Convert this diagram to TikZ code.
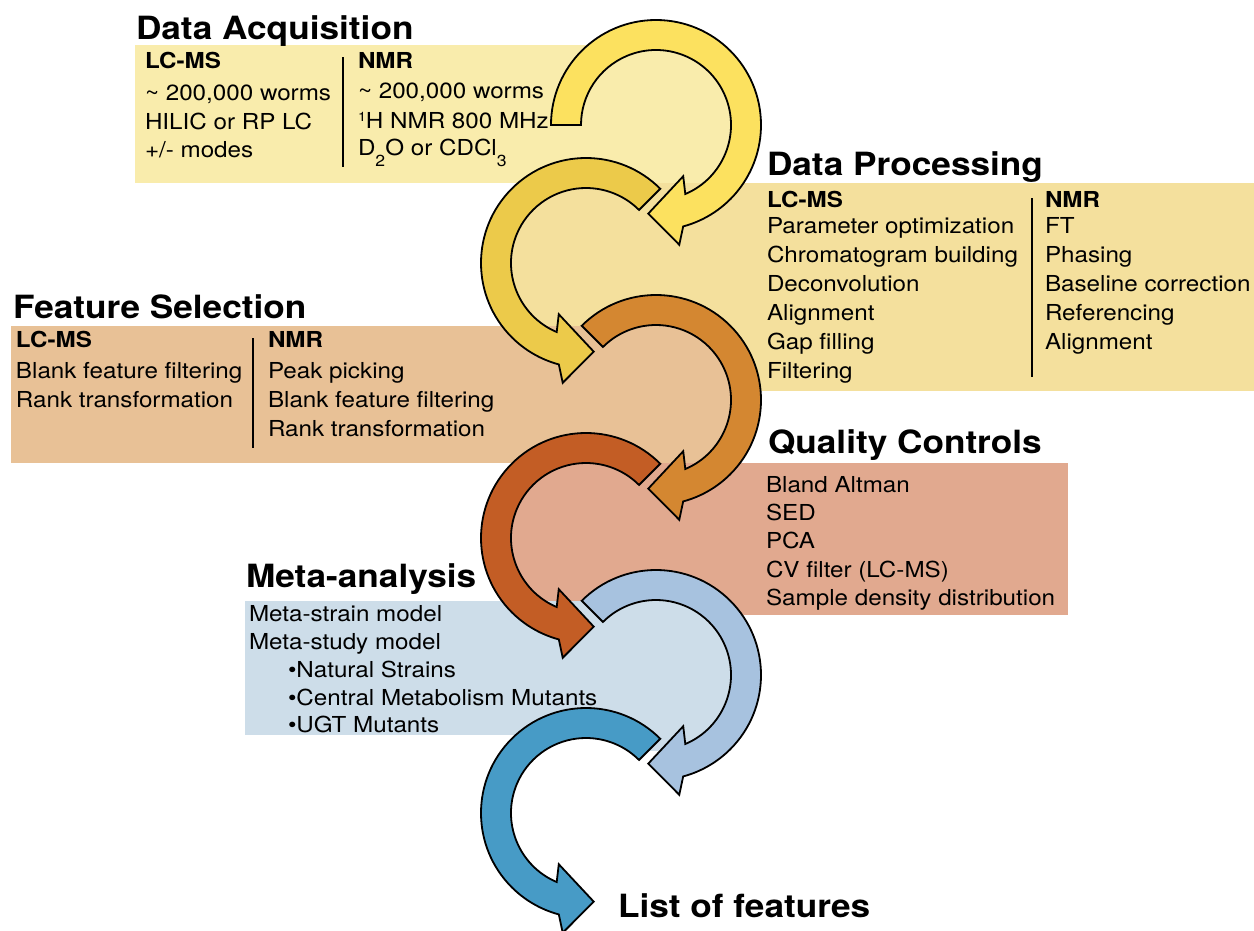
\documentclass[tikz,border=0pt]{standalone}
\usepackage{fontspec}
\setmainfont{TeX Gyre Heros}[FakeStretch=1.1]

\definecolor{acqbox}{HTML}{F9ECAC}
\definecolor{acqarrow}{HTML}{FCE15F}
\definecolor{procbox}{HTML}{F4E09D}
\definecolor{procarrow}{HTML}{ECCA4A}
\definecolor{selbox}{HTML}{E8C196}
\definecolor{selarrow}{HTML}{D48731}
\definecolor{qcbox}{HTML}{E1A98F}
\definecolor{qcarrow}{HTML}{C35D25}
\definecolor{metabox}{HTML}{CDDDE9}
\definecolor{metaarrow}{HTML}{A7C2DF}
\definecolor{listarrow}{HTML}{479BC6}

% small raised / lowered digits
\newcommand\sups[1]{\raisebox{7pt}{\fontsize{13}{13}\selectfont #1}}
\newcommand\subs[1]{\raisebox{-11.5pt}{\fontsize{16}{16}\selectfont #1}}

% curved band arrow turning clockwise on the page: centre x, centre y, tail angle, colour
\newcommand\cwring[4]{%
  \begin{scope}[shift={(#1,#2)}]
    \filldraw[ring, fill=#4] (#3:105) arc[start angle=#3, end angle=435, radius=105]
      -- (439:122) -- (455:89) -- (422:58) -- (427:75)
      arc[start angle=427, end angle=#3, radius=75] -- cycle;
  \end{scope}}
% the same, turning counter-clockwise
\newcommand\ccwring[4]{%
  \begin{scope}[shift={(#1,#2)}]
    \filldraw[ring, fill=#4] (#3:105) arc[start angle=#3, end angle=-255, radius=105]
      -- (-259:122) -- (-275:89) -- (-242:58) -- (-247:75)
      arc[start angle=-247, end angle=#3, radius=75] -- cycle;
  \end{scope}}

\begin{document}
\begin{tikzpicture}[x=1pt, y=-1pt,
  every node/.style={inner sep=0pt, outer sep=0pt, anchor=base west},
  title/.style={font=\fontsize{32}{36}\selectfont\bfseries},
  head/.style={font=\fontsize{22}{26}\selectfont\bfseries},
  body/.style={font=\fontsize{22}{26}\selectfont},
  ring/.style={draw=black, line width=1.8pt, line join=miter},
  divider/.style={draw=black, line width=1.6pt}]

\useasboundingbox (0,0) rectangle (1254,930);

% ---- coloured panels, each joined to the disc inside its arrow
\fill[acqbox] (135,45) rectangle (656,183);
\fill[acqbox] (656,125) circle[radius=76];
\fill[procbox] (586,183) rectangle (1254,391);
\fill[procbox] (586,263) circle[radius=76];
\fill[selbox] (11,326) rectangle (656,463);
\fill[selbox] (656,400) circle[radius=76];
\fill[qcbox] (586,463) rectangle (1068,615);
\fill[qcbox] (586,538) circle[radius=76];
\fill[metabox] (245,601) rectangle (656,735);
\fill[metabox] (656,675) circle[radius=76];

% ---- the chain of curved arrows
\ccwring{586}{813}{-45}{listarrow}
\cwring{656}{675}{225}{metaarrow}
\ccwring{586}{538}{-45}{qcarrow}
\cwring{656}{400}{225}{selarrow}
\ccwring{586}{263}{-45}{procarrow}
\cwring{656}{125}{180}{acqarrow}

% ---- Data Acquisition
\node[title] (acqT) at (136,39) {Data Acquisition};
\node[head] (acqLh) at (145,68) {LC-MS};
\node[body] (acqL1) at (145,100) {\textasciitilde{} 200,000 worms};
\node[body] (acqL2) at (145,129) {HILIC or RP LC};
\node[body] (acqL3) at (145,157) {+/- modes};
\node[head] (acqNh) at (358,68) {NMR};
\node[body] (acqN1) at (358,98) {\textasciitilde{} 200,000 worms};
\node[body] (acqN2) at (358,128) {\sups{1}H NMR 800 MHz};
\node[body] (acqN3) at (358,155) {D\subs{2}O or CDCl\subs{3}};
\draw[divider] (343,57) -- (343,167);

% ---- Data Processing
\node[title] (procT) at (767,175) {Data Processing};
\node[head] (procLh) at (767,207) {LC-MS};
\foreach \t [count=\i] in {Parameter optimization, Chromatogram building,
    Deconvolution, Alignment, Gap filling, Filtering}
  \node[body] (procL\i) at (767,{233+29*(\i-1)}) {\t};
\node[head] (procNh) at (1045,207) {NMR};
\foreach \t [count=\i] in {FT, Phasing, Baseline correction, Referencing, Alignment}
  \node[body] (procN\i) at (1045,{233+29*(\i-1)}) {\t};
\draw[divider] (1032,198) -- (1032,377);

% ---- Feature Selection
\node[title] (selT) at (13,318) {Feature Selection};
\node[head] (selLh) at (16,347) {LC-MS};
\node[body] (selL1) at (16,378) {Blank feature filtering};
\node[body] (selL2) at (16,407) {Rank transformation};
\node[head] (selNh) at (268,347) {NMR};
\node[body] (selN1) at (268,378) {Peak picking};
\node[body] (selN2) at (268,407) {Blank feature filtering};
\node[body] (selN3) at (268,436) {Rank transformation};
\draw[divider] (253,338) -- (253,448);

% ---- Quality Controls
\node[title] (qcT) at (768,453) {Quality Controls};
\foreach \t [count=\i] in {Bland Altman, SED, PCA, CV filter (LC-MS),
    Sample density distribution}
  \node[body] (qc\i) at (766,{492+28.4*(\i-1)}) {\t};

% ---- Meta-analysis
\node[title] (metaT) at (246,587) {Meta-analysis};
\node[body] (meta1) at (249,621) {Meta-strain model};
\node[body] (meta2) at (249,649) {Meta-study model};
\node[body] (meta3) at (288,677) {\textbullet Natural Strains};
\node[body] (meta4) at (288,705) {\textbullet Central Metabolism Mutants};
\node[body] (meta5) at (288,732) {\textbullet UGT Mutants};

% ---- result
\node[title] (listT) at (618,917) {List of features};

\end{tikzpicture}
\end{document}
